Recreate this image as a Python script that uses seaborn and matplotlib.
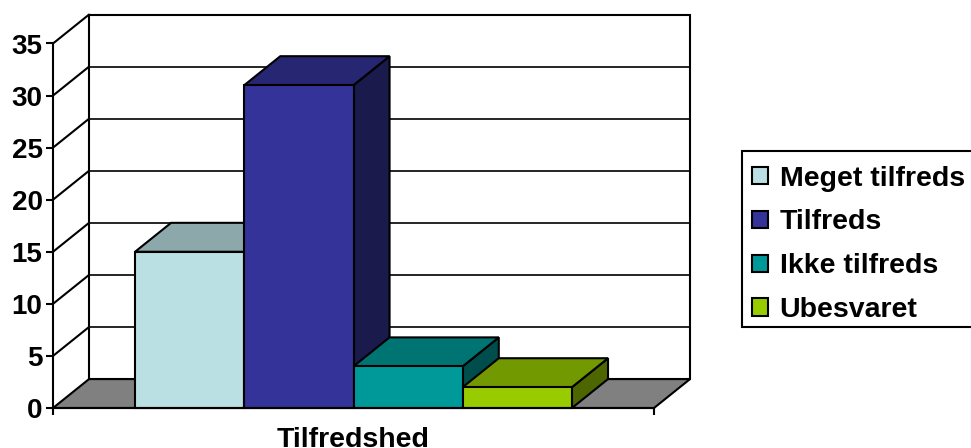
import matplotlib
matplotlib.use("Agg")
import matplotlib.pyplot as plt
from matplotlib.patches import Polygon, Rectangle
import pandas as pd
import seaborn as sns

# Survey answers shown as one clustered column group
group_label = "Tilfredshed"
answers = ["Meget tilfreds", "Tilfreds", "Ikke tilfreds", "Ubesvaret"]
counts = [15, 31, 4, 2]
colors = ["#BBE0E3", "#333399", "#009999", "#99CC00"]
y_ticks = [0, 5, 10, 15, 20, 25, 30, 35]

W, H = 971, 448
DEPTH_X = 0.06     # box depth along x, in axis units
DEPTH_Y = 2.78     # box depth along y, in value units
LINE = 1.5

sns.set_theme(style="white")
plt.rcParams["font.family"] = ["Liberation Sans", "DejaVu Sans"]
plt.rcParams["font.weight"] = "bold"

fig = plt.figure(figsize=(W / 100, H / 100), dpi=100)
ax = fig.add_axes([53 / W, (H - 408) / H, 601 / W, 364.5 / H])

df = pd.DataFrame({"Gruppe": [group_label] * len(answers), "Svar": answers, "Antal": counts})
sns.barplot(data=df, x="Gruppe", y="Antal", hue="Svar", hue_order=answers,
            palette=colors, saturation=1, width=0.727, gap=0,
            edgecolor="black", linewidth=LINE, ax=ax)

ax.set_xlim(-0.5, 0.5)
ax.set_ylim(0, 35)
ax.set_xlabel("")
ax.set_ylabel("")
ax.set_yticks(y_ticks)


def shade(color, factor):
    r, g, b = matplotlib.colors.to_rgb(color)
    return (r * factor, g * factor, b * factor)


def poly(points, face="none", z=1, lw=LINE):
    ax.add_patch(Polygon(points, closed=True, facecolor=face, edgecolor="black",
                         linewidth=lw, zorder=z, clip_on=False, joinstyle="miter"))


x0, x1 = ax.get_xlim()

# Floor and back wall of the chart box
poly([(x0, 0), (x1, 0), (x1 + DEPTH_X, DEPTH_Y), (x0 + DEPTH_X, DEPTH_Y)], "#808080", 1)
for v in y_ticks[1:-1]:
    ax.plot([x0 + DEPTH_X, x1 + DEPTH_X], [v + DEPTH_Y] * 2, color="black", lw=1.2,
            zorder=1.2, clip_on=False)
for v in y_ticks[1:]:
    ax.plot([x0, x0 + DEPTH_X], [v, v + DEPTH_Y], color="black", lw=LINE,
            zorder=1.2, clip_on=False)
poly([(x0 + DEPTH_X, DEPTH_Y), (x1 + DEPTH_X, DEPTH_Y),
      (x1 + DEPTH_X, 35 + DEPTH_Y), (x0 + DEPTH_X, 35 + DEPTH_Y)], "none", 1.3)

# Columns: each one gets a side and top face, painted left to right
for i, (container, color) in enumerate(zip(ax.containers, colors)):
    bar = container[0]
    a, b, h = bar.get_x(), bar.get_x() + bar.get_width(), bar.get_height()
    z = 2 + i
    poly([(b, 0), (b + DEPTH_X, DEPTH_Y), (b + DEPTH_X, h + DEPTH_Y), (b, h)], shade(color, 0.5), z)
    poly([(a, h), (b, h), (b + DEPTH_X, h + DEPTH_Y), (a + DEPTH_X, h + DEPTH_Y)], shade(color, 0.75), z)
    bar.set_zorder(z + 0.5)
    bar.set_clip_on(False)

# Axis lines and ticks
sns.despine(ax=ax, top=True, right=True)
for side in ("left", "bottom"):
    ax.spines[side].set_color("black")
    ax.spines[side].set_linewidth(LINE)
    ax.spines[side].set_zorder(20)
ax.tick_params(axis="y", left=True, length=5, width=LINE, color="black", pad=2.5,
               labelsize=20, labelcolor="black")
ax.tick_params(axis="x", bottom=True, length=0, pad=13.5, labelsize=20.5, labelcolor="black")
ax.set_xticks([x0, x1], minor=True)
ax.tick_params(axis="x", which="minor", bottom=True, length=5, width=LINE, color="black")
for label in ax.get_xticklabels() + ax.get_yticklabels():
    label.set_fontweight("bold")

# Legend box runs past the right figure edge
fig.add_artist(Rectangle((742 / W, (H - 327) / H), 300 / W, 176 / H, transform=fig.transFigure,
                         facecolor="white", edgecolor="black", linewidth=LINE, zorder=-1))
handles, labels = ax.get_legend_handles_labels()
leg = ax.legend(handles, labels, loc="upper left", bbox_to_anchor=(746 / W, (H - 160) / H),
                bbox_transform=fig.transFigure, frameon=False, fontsize=20.5,
                handlelength=0.56, handleheight=0.56, handletextpad=0.42,
                labelspacing=0.625, borderpad=0.2, borderaxespad=0)
leg.set_zorder(30)
for text in leg.get_texts():
    text.set_color("black")
    text.set_fontweight("bold")

fig.savefig("out.png", dpi=100)
